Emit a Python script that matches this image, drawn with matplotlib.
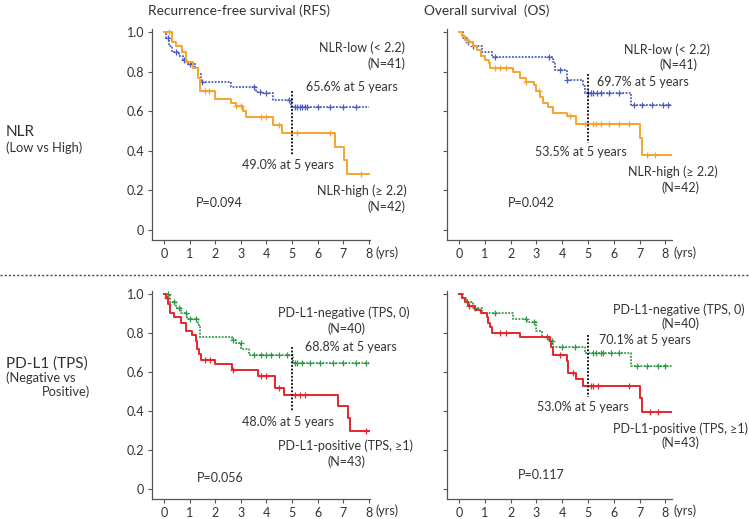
import numpy as np
import matplotlib
matplotlib.use('Agg')
import matplotlib.pyplot as plt

plt.rcParams['font.family'] = ['Lato', 'DejaVu Sans']

# ---- data ----
# RFS, NLR
rfs_nlr_high_t = [0, 0.3, 0.45, 0.7, 0.85, 1.15, 1.33, 1.4, 1.98, 2.63, 2.8, 3.1, 3.2, 4.25, 4.6, 6.7, 7.05, 7.14, 8.0]
rfs_nlr_high_s = [1.0, 0.95, 0.93, 0.90, 0.85, 0.82, 0.77, 0.70, 0.664, 0.641, 0.625, 0.60, 0.573, 0.531, 0.49, 0.42, 0.354, 0.282, 0.282]
rfs_nlr_high_c = [0.2, 1.6, 1.75, 2.8, 3.0, 3.8, 4.0, 4.5, 5.2, 6.5, 7.7]
rfs_nlr_low_t = [0, 0.08, 0.18, 0.3, 0.6, 0.75, 0.9, 1.2, 1.33, 1.45, 2.63, 3.6, 3.86, 4.25, 4.97, 8.0]
rfs_nlr_low_s = [1.0, 0.97, 0.93, 0.90, 0.88, 0.86, 0.84, 0.82, 0.79, 0.747, 0.72, 0.696, 0.69, 0.656, 0.62, 0.62]
rfs_nlr_low_c = [0.15, 0.45, 0.8, 1.0, 1.1, 1.5, 3.5, 3.75, 4.0, 4.9, 5.1, 5.2, 5.3, 5.4, 5.5, 5.6, 6.0, 6.5, 7.0, 7.5]

# OS, NLR
os_nlr_high_t = [0, 0.1, 0.23, 0.4, 0.55, 0.7, 0.85, 1.0, 1.15, 1.2, 2.1, 2.36, 2.6, 2.92, 3.0, 3.13, 3.26, 3.45, 3.63, 4.17, 4.53, 7.0, 7.1, 8.26]
os_nlr_high_s = [1.0, 0.98, 0.96, 0.95, 0.93, 0.91, 0.88, 0.86, 0.845, 0.82, 0.796, 0.77, 0.75, 0.73, 0.70, 0.67, 0.64, 0.62, 0.59, 0.574, 0.535, 0.463, 0.38, 0.38]
os_nlr_high_c = [0.3, 1.4, 1.6, 1.8, 2.6, 3.1, 4.3, 4.9, 5.2, 5.3, 5.5, 5.8, 6.2, 6.6, 7.3, 7.6]
os_nlr_low_t = [0, 0.15, 0.35, 0.55, 0.88, 1.26, 3.63, 3.72, 4.17, 4.8, 4.87, 6.65, 8.26]
os_nlr_low_s = [1.0, 0.97, 0.95, 0.93, 0.90, 0.872, 0.847, 0.81, 0.758, 0.727, 0.693, 0.63, 0.63]
os_nlr_low_c = [0.35, 0.55, 1.4, 3.5, 3.9, 4.2, 5.0, 5.1, 5.2, 5.35, 5.5, 5.8, 6.2, 6.8, 7.1, 7.5, 7.9, 8.1]

# RFS, PD-L1
rfs_pos_t = [0, 0.09, 0.15, 0.22, 0.38, 0.68, 0.85, 1.11, 1.24, 1.3, 1.37, 1.46, 1.98, 2.67, 3.67, 4.32, 4.68, 6.79, 7.18, 7.27, 8.0]
rfs_pos_s = [1.0, 0.98, 0.95, 0.90, 0.88, 0.85, 0.81, 0.79, 0.76, 0.72, 0.69, 0.66, 0.64, 0.613, 0.58, 0.52, 0.485, 0.424, 0.364, 0.30, 0.30]
rfs_pos_c = [0.1, 1.6, 1.8, 2.7, 3.8, 4.0, 4.5, 5.1, 5.3, 5.5, 7.9]
rfs_neg_t = [0, 0.22, 0.48, 0.68, 0.9, 1.33, 1.4, 2.67, 2.83, 3.02, 3.34, 5.03, 8.0]
rfs_neg_s = [1.0, 0.96, 0.93, 0.90, 0.87, 0.84, 0.78, 0.763, 0.75, 0.72, 0.687, 0.648, 0.648]
rfs_neg_c = [0.15, 0.4, 0.6, 0.85, 1.0, 1.25, 2.7, 3.0, 3.5, 3.8, 4.0, 4.2, 4.5, 4.8, 5.1, 5.2, 5.4, 5.7, 6.1, 6.6, 7.0, 7.5, 7.9]

# OS, PD-L1
os_pos_t = [0, 0.1, 0.23, 0.36, 0.62, 0.84, 1.07, 1.13, 1.2, 1.26, 2.36, 3.52, 3.58, 3.65, 4.17, 4.23, 4.55, 4.81, 7.03, 7.1, 8.26]
os_pos_s = [1.0, 0.98, 0.96, 0.94, 0.92, 0.90, 0.88, 0.85, 0.83, 0.80, 0.777, 0.76, 0.726, 0.686, 0.657, 0.597, 0.563, 0.528, 0.468, 0.395, 0.395]
os_pos_c = [0.4, 1.6, 1.8, 3.4, 3.9, 4.4, 5.1, 5.2, 5.4, 6.6, 7.4, 7.7]
os_neg_t = [0, 0.15, 0.3, 0.55, 0.88, 2.1, 2.62, 3.0, 3.2, 3.46, 3.65, 4.88, 6.65, 8.26]
os_neg_s = [1.0, 0.98, 0.96, 0.93, 0.90, 0.871, 0.854, 0.81, 0.777, 0.76, 0.73, 0.70, 0.631, 0.631]
os_neg_c = [0.3, 0.6, 1.4, 2.6, 2.9, 3.6, 4.0, 4.5, 5.2, 5.3, 5.5, 5.6, 5.9, 6.2, 6.9, 7.3, 7.7, 8.0]

col_titles = ['Recurrence-free survival (RFS)', 'Overall survival  (OS)']
y_ticks = [0, 0.2, 0.4, 0.6, 0.8, 1.0]
y_tick_labels = ['0', '0.2', '0.4', '0.6', '0.8', '1.0']
x_ticks = list(range(9))

ORANGE = '#F5A430'
BLUE = '#4B5EC0'
RED = '#E5262C'
GREEN = '#2F9A45'

fig = plt.figure(figsize=(7.49, 5.19), dpi=100)
W, H = 749, 519


def px(x, y):
    # pixel position (from top-left) -> figure fraction
    return x / W, 1 - y / H


def px_axes(x0, x1, ytop, ybot):
    return fig.add_axes([x0 / W, 1 - ybot / H, (x1 - x0) / W, (ybot - ytop) / H])


def km(ax, t, s, cens, color, ls):
    t = np.asarray(t); s = np.asarray(s)
    ax.step(t, s, where='post', color=color, lw=1.4 if ls == '-' else 1.3, ls=ls)
    c = np.asarray(cens)
    idx = np.searchsorted(t, c, side='right') - 1
    ax.plot(c, s[idx], ls='none', marker='|', ms=5, mew=0.9, color=color)
    ax.plot(c, s[idx], ls='none', marker='_', ms=4, mew=0.9, color=color)


def setup(ax, xmax, labels):
    ax.set_xlim(-0.47, xmax)
    ax.set_ylim(-0.05, 1.015)
    for sp in ['top', 'right']:
        ax.spines[sp].set_visible(False)
    for sp in ['left', 'bottom']:
        ax.spines[sp].set_color('#555555')
        ax.spines[sp].set_linewidth(0.9)
    ax.set_yticks(y_ticks)
    ax.set_xticks(x_ticks)
    ax.set_xticklabels([str(v) for v in x_ticks], fontsize=9, color='#333333')
    if labels:
        ax.set_yticklabels(y_tick_labels, fontsize=9, color='#333333')
    else:
        ax.set_yticklabels([])
    ax.tick_params(length=3, width=0.8, color='#555555', pad=2.5)


def vline5(ax, y0, y1):
    ax.plot([5, 5], [y0, y1], color='black', ls=(0, (1, 1)), lw=1.3)


def label(x, y, s, ha='left', size=9):
    fig.text(*px(x, y), s, ha=ha, va='center', fontsize=size, color='#333333')


# top-left: RFS, NLR
ax = px_axes(152, 370, 29, 240)
setup(ax, 8.05, True)
km(ax, rfs_nlr_low_t, rfs_nlr_low_s, rfs_nlr_low_c, BLUE, (0, (1, 0.8)))
km(ax, rfs_nlr_high_t, rfs_nlr_high_s, rfs_nlr_high_c, ORANGE, '-')
vline5(ax, 0.70, 0.38)
label(376, 253, '(yrs)')
label(405, 48, 'NLR-low (< 2.2)', 'right')
label(405, 64, '(N=41)', 'right')
label(306, 87, '65.6% at 5 years')
label(242, 165, '49.0% at 5 years')
label(317, 191, 'NLR-high (≥ 2.2)')
label(405, 207, '(N=42)', 'right')
label(196, 203, 'P=0.094')

# top-right: OS, NLR
ax = px_axes(447, 672, 29, 240)
setup(ax, 8.26, False)
km(ax, os_nlr_low_t, os_nlr_low_s, os_nlr_low_c, BLUE, (0, (1, 0.8)))
km(ax, os_nlr_high_t, os_nlr_high_s, os_nlr_high_c, ORANGE, '-')
vline5(ax, 0.79, 0.44)
label(674, 253, '(yrs)')
label(710, 50, 'NLR-low (< 2.2)', 'right')
label(697, 65, '(N=41)', 'right')
label(597, 82, '69.7% at 5 years')
label(535, 152, '53.5% at 5 years')
label(628, 172, 'NLR-high (≥ 2.2)')
label(700, 188, '(N=42)', 'right')
label(508, 203, 'P=0.042')

# bottom-left: RFS, PD-L1
ax = px_axes(152, 370, 291, 499)
setup(ax, 8.05, True)
km(ax, rfs_neg_t, rfs_neg_s, rfs_neg_c, GREEN, (0, (1, 0.8)))
km(ax, rfs_pos_t, rfs_pos_s, rfs_pos_c, RED, '-')
vline5(ax, 0.73, 0.40)
label(376, 511, '(yrs)')
label(278, 313, 'PD-L1-negative (TPS, 0)')
label(327, 329, '(N=40)')
label(305, 347, '68.8% at 5 years')
label(242, 422, '48.0% at 5 years')
label(278, 446, 'PD-L1-positive (TPS, ≥1)')
label(327, 462, '(N=43)')
label(197, 478, 'P=0.056')

# bottom-right: OS, PD-L1
ax = px_axes(447, 672, 291, 499)
setup(ax, 8.26, False)
km(ax, os_neg_t, os_neg_s, os_neg_c, GREEN, (0, (1, 0.8)))
km(ax, os_pos_t, os_pos_s, os_pos_c, RED, '-')
vline5(ax, 0.79, 0.47)
label(674, 511, '(yrs)')
label(613, 310, 'PD-L1-negative (TPS, 0)')
label(661, 324, '(N=40)')
label(599, 340, '70.1% at 5 years')
label(537, 407, '53.0% at 5 years')
label(613, 429, 'PD-L1-positive (TPS, ≥1)')
label(661, 443, '(N=43)')
label(518, 475, 'P=0.117')

# column titles
label(239, 11, col_titles[0], 'center', 9.8)
label(487, 11, col_titles[1], 'center', 9.8)

# row labels
label(6, 132, 'NLR', size=11)
label(6, 148, '(Low vs High)', size=9.3)
label(6, 364, 'PD-L1 (TPS)', size=11)
label(6, 378, '(Negative vs', size=9.3)
label(42, 392, 'Positive)', size=9.3)

# separator
fig.add_artist(plt.Line2D([0, 1], [1 - 275 / H, 1 - 275 / H], color='#444444', lw=1.0, ls=(0, (1.5, 1.5))))

fig.savefig('out.png', dpi=100)
